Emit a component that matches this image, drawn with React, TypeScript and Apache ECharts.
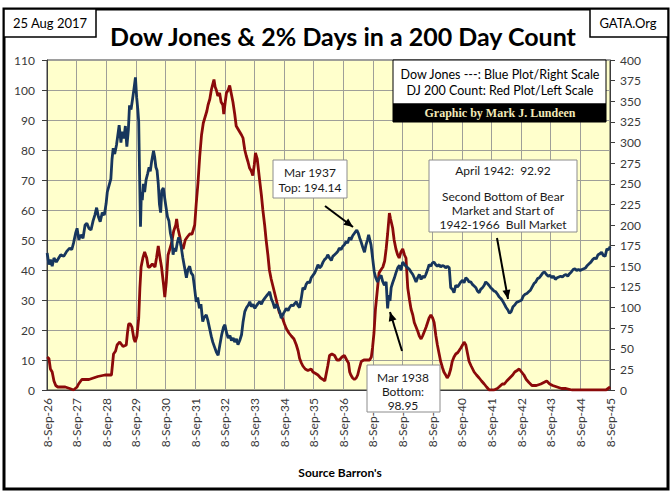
import React, { useEffect, useRef } from "react";
import * as echarts from "echarts";

const BASE_YEAR = 1926.685; // 8-Sep-1926
const X_TICK_LABELS = ["8-Sep-26","8-Sep-27","8-Sep-28","8-Sep-29","8-Sep-30","8-Sep-31","8-Sep-32","8-Sep-33","8-Sep-34","8-Sep-35","8-Sep-36","8-Sep-37","8-Sep-38","8-Sep-39","8-Sep-40","8-Sep-41","8-Sep-42","8-Sep-43","8-Sep-44","8-Sep-45"];

// Dow Jones Industrial Average (right scale)
const dowYears = [
  1926.69,1926.75,1926.80,1926.86,1926.92,1927.00,1927.08,1927.15,1927.25,1927.35,1927.45,1927.52,1927.58,1927.65,1927.70,1927.76,1927.82,1927.90,1927.97,
  1928.03,1928.10,1928.17,1928.24,1928.30,1928.36,1928.42,1928.48,1928.55,1928.62,1928.68,1928.72,1928.78,1928.84,1928.88,1928.92,1928.97,
  1929.03,1929.08,1929.12,1929.18,1929.22,1929.28,1929.33,1929.38,1929.43,1929.47,1929.52,1929.57,1929.62,1929.67,1929.71,1929.75,1929.78,1929.81,1929.84,1929.87,1929.90,1929.94,1929.98,
  1930.03,1930.08,1930.13,1930.17,1930.22,1930.28,1930.32,1930.36,1930.40,1930.44,1930.48,1930.52,1930.56,1930.61,1930.66,1930.70,1930.75,1930.80,1930.85,1930.90,1930.94,1930.98,
  1931.03,1931.08,1931.13,1931.18,1931.22,1931.27,1931.32,1931.39,1931.44,1931.50,1931.55,1931.61,1931.66,1931.72,1931.77,1931.83,1931.88,1931.94,1931.99,
  1932.06,1932.11,1932.17,1932.23,1932.28,1932.34,1932.40,1932.46,1932.52,1932.58,1932.64,1932.69,1932.74,1932.80,1932.86,1932.91,1932.97,
  1933.02,1933.08,1933.13,1933.19,1933.25,1933.30,1933.36,1933.42,1933.48,1933.53,1933.58,1933.64,1933.70,1933.75,1933.81,1933.86,1933.92,1933.97,
  1934.03,1934.09,1934.14,1934.20,1934.26,1934.31,1934.37,1934.42,1934.48,1934.54,1934.59,1934.65,1934.70,1934.76,1934.82,1934.87,1934.93,1934.99,
  1935.05,1935.10,1935.16,1935.21,1935.27,1935.32,1935.38,1935.43,1935.49,1935.55,1935.60,1935.66,1935.72,1935.77,1935.83,1935.88,1935.94,
  1936.00,1936.05,1936.11,1936.16,1936.22,1936.28,1936.33,1936.39,1936.45,1936.50,1936.55,1936.61,1936.66,1936.72,1936.78,1936.83,1936.89,1936.94,
  1937.00,1937.06,1937.10,1937.14,1937.19,1937.24,1937.29,1937.35,1937.40,1937.45,1937.50,1937.54,1937.58,1937.62,1937.66,1937.70,1937.73,1937.78,1937.84,1937.90,1937.96,
  1938.01,1938.07,1938.13,1938.18,1938.22,1938.26,1938.30,1938.35,1938.41,1938.46,1938.52,1938.58,1938.63,1938.69,1938.75,1938.80,1938.86,1938.92,1938.97,
  1939.03,1939.08,1939.14,1939.19,1939.25,1939.31,1939.36,1939.42,1939.47,1939.53,1939.58,1939.64,1939.69,1939.75,1939.80,1939.86,1939.92,1939.97,
  1940.03,1940.09,1940.14,1940.20,1940.26,1940.31,1940.37,1940.42,1940.48,1940.54,1940.60,1940.65,1940.71,1940.76,1940.82,1940.88,1940.93,1940.99,
  1941.04,1941.10,1941.16,1941.21,1941.27,1941.32,1941.38,1941.44,1941.49,1941.55,1941.60,1941.66,1941.72,1941.77,1941.83,1941.89,1941.94,
  1942.00,1942.06,1942.12,1942.18,1942.24,1942.29,1942.35,1942.41,1942.47,1942.53,1942.58,1942.64,1942.70,1942.76,1942.82,1942.88,1942.94,
  1943.00,1943.06,1943.12,1943.18,1943.24,1943.30,1943.36,1943.42,1943.48,1943.54,1943.60,1943.66,1943.72,1943.78,1943.84,1943.90,1943.96,
  1944.02,1944.08,1944.14,1944.20,1944.26,1944.32,1944.38,1944.44,1944.50,1944.56,1944.62,1944.68,1944.74,1944.80,1944.86,1944.92,1944.98,
  1945.04,1945.10,1945.16,1945.22,1945.28,1945.34,1945.40,1945.46,1945.52,1945.58,1945.64,1945.69
];
const dowValues = [
  166,152,158,150,160,155,160,164,162,168,172,170,178,190,196,182,188,184,200,
  202,196,194,205,212,221,210,204,215,212,226,240,248,256,280,293,286,
  297,310,321,300,313,305,320,295,315,345,340,352,365,379,355,340,325,260,198,240,230,250,240,
  255,262,270,265,278,290,282,270,266,250,225,215,242,245,232,222,210,205,190,182,164,172,
  168,178,185,180,172,160,150,136,146,150,142,139,125,107,112,99,104,83,88,
  91,85,75,65,58,52,46,42,55,67,76,79,70,63,66,60,63,
  58,62,55,60,67,82,95,100,103,107,101,104,99,102,105,107,104,108,
  111,114,116,119,110,106,99,104,100,95,87,92,95,99,96,100,103,102,
  105,107,102,100,112,124,122,128,131,130,136,139,142,146,152,148,150,
  155,158,160,164,160,157,162,164,166,168,172,170,174,176,180,178,185,182,
  187,190,192,194,190,184,179,172,167,176,182,188,182,176,164,152,143,136,131,136,139,
  132,127,131,99,115,108,124,130,136,142,148,151,145,155,152,150,148,146,143,
  140,136,131,136,140,134,138,136,140,146,152,150,154,155,152,150,152,149,
  151,150,148,150,148,124,122,118,127,125,128,131,133,130,136,134,131,131,
  128,126,124,120,118,122,124,127,131,129,127,124,122,120,119,116,113,
  111,108,104,100,97,93,95,101,103,106,107,108,109,114,116,117,119,
  121,125,129,131,135,136,139,142,143,140,138,139,136,138,134,136,137,
  138,137,139,140,138,141,143,146,147,145,146,145,146,147,148,151,153,
  155,158,160,159,164,165,167,163,162,171,170,174
];

// Count of 2% days in 200 trading days (left scale)
const countYears = [
  1926.69,1926.75,1926.80,1926.86,1926.92,1926.98,1927.05,1927.30,1927.45,1927.58,1927.70,1927.75,1927.86,
  1928.10,1928.25,1928.40,1928.64,1928.86,1928.90,1928.93,1929.00,1929.05,1929.14,1929.25,1929.36,1929.40,1929.44,1929.50,1929.55,1929.62,1929.66,1929.72,1929.78,1929.82,1929.86,1929.92,1929.98,
  1930.05,1930.10,1930.15,1930.24,1930.33,1930.38,1930.44,1930.50,1930.55,1930.62,1930.66,1930.71,1930.77,1930.83,1930.89,1930.96,
  1931.03,1931.06,1931.10,1931.17,1931.22,1931.28,1931.35,1931.42,1931.50,1931.58,1931.67,1931.72,1931.78,1931.84,1931.90,1931.96,
  1932.02,1932.08,1932.12,1932.18,1932.23,1932.28,1932.32,1932.36,1932.40,1932.45,1932.51,1932.56,1932.62,1932.65,1932.70,1932.74,1932.80,1932.85,1932.90,1932.96,
  1933.02,1933.07,1933.13,1933.19,1933.25,1933.30,1933.36,1933.41,1933.47,1933.52,1933.58,1933.63,1933.68,1933.72,1933.78,1933.86,1933.92,1933.97,
  1934.03,1934.08,1934.14,1934.19,1934.25,1934.30,1934.40,1934.52,1934.63,1934.70,1934.76,1934.85,1934.93,
  1935.02,1935.10,1935.16,1935.21,1935.27,1935.32,1935.40,1935.49,1935.60,1935.66,1935.75,1935.83,1935.92,
  1936.00,1936.06,1936.11,1936.16,1936.22,1936.30,1936.39,1936.47,1936.55,1936.64,1936.72,1936.80,1936.86,1936.90,1936.94,
  1937.00,1937.06,1937.12,1937.17,1937.22,1937.29,1937.38,1937.46,1937.57,1937.63,1937.67,1937.72,1937.77,1937.83,1937.89,1937.95,
  1938.02,1938.08,1938.13,1938.18,1938.24,1938.28,1938.35,1938.40,1938.46,1938.52,1938.57,1938.63,1938.69,1938.75,1938.80,1938.86,1938.92,1938.97,
  1939.03,1939.08,1939.14,1939.20,1939.25,1939.31,1939.36,1939.42,1939.48,1939.53,1939.58,1939.64,1939.70,1939.75,1939.81,1939.86,1939.92,1939.97,
  1940.03,1940.08,1940.14,1940.19,1940.25,1940.31,1940.36,1940.42,1940.48,1940.55,1940.65,1940.71,1940.76,1940.82,1940.88,1940.93,
  1941.00,1941.10,1941.18,1941.27,1941.35,1941.44,1941.52,1941.61,1941.77,1941.88,1941.94,
  1942.05,1942.12,1942.20,1942.30,1942.40,1942.47,1942.55,1942.62,1942.70,1942.78,1942.86,1942.95,
  1943.05,1943.20,1943.35,1943.45,1943.55,1943.65,1943.75,1943.90,
  1944.05,1944.20,1944.40,1945.00,1945.55,1945.62,1945.69
];
const countValues = [
  11,10.5,7,6,3,1.5,1,1,0.5,0,1,2,3.5,
  3.5,4,4.5,5,5,9,12,13,15,16,14.5,15,19,22,22,21,17,16,18,24,34,41,44,46,
  44,41,41,42,41,44,48,44,41,35,31,36,45,47,49,53,
  55,57,54,51,48,47,50,51,52,52,55,62,69,78,85,89,
  91,93,95,97,100,102,103.5,101,100,98,99,96,95,92,96,99,100,101.5,99,96,
  92,88,87,86,85,84,80,78,76,74,73,71.5,75,79,77,70,65,60,
  55,50,45,40,37,35,31,26,24,22,20.5,19,18,
  17,15,13,10.5,9,8,7,6.5,7,6,5.5,5,4,
  3.5,3,5.5,8,11.5,12,11.5,10,10,11,11.5,10,9,6,5,
  4,3.5,4,5,7,9.5,10,10,10,11,14,19,27,33,39,40,
  41,43,47,52,59,57,54,50,47,45,44,46,47,45,44,34,30,27,
  25,22.5,21,19.5,18,17,18,19.5,21,22.5,24,25,24,22.5,18,15,12,9.5,
  7.5,6,5,4,5,7,9.5,11,12,12.5,14,15,16,15,12,9.5,
  8,6,5,4,3,2,1,0,0,0.5,1,
  2,2,3,4,5,6,6.5,7,6,5,3.5,2.5,
  1.5,1.5,2,2.5,3,2,1.5,1,
  0.5,0.5,0,0,0,0.5,1
];

const LEFT_MAX = 110;
const LEFT_STEP = 10;
const RIGHT_MAX = 400;
const RIGHT_STEP = 25;

const FONT = "Lato, 'Open Sans', sans-serif";

function arrowHead(x1: number, y1: number, x2: number, y2: number, len = 9, half = 4) {
  const dx = x2 - x1, dy = y2 - y1;
  const L = Math.sqrt(dx * dx + dy * dy);
  const ux = dx / L, uy = dy / L;
  const bx = x2 - ux * len, by = y2 - uy * len;
  const px = -uy * half, py = ux * half;
  return [[x2, y2], [bx + px, by + py], [bx - px, by - py]];
}

function arrow(x1: number, y1: number, x2: number, y2: number) {
  return [
    { type: "line", z: 100, shape: { x1, y1, x2, y2 }, style: { stroke: "#000", lineWidth: 2 } },
    { type: "polygon", z: 100, shape: { points: arrowHead(x1, y1, x2, y2) }, style: { fill: "#000" } },
  ];
}

function noteBox(x: number, y: number, w: number, h: number) {
  return { type: "rect", z: 90, shape: { x, y, width: w, height: h }, style: { fill: "#fff", stroke: "#8c8c8c", lineWidth: 1 } };
}

function noteText(x: number, y: number, text: string, size = 12, align = "center") {
  return { type: "text", z: 95, x, y, style: { text, fill: "#1a1a1a", font: `${size}px ${FONT}`, textAlign: align, textVerticalAlign: "middle" } };
}

export default function App() {
  const ref = useRef<HTMLDivElement>(null);
  useEffect(() => {
    if (!ref.current) return;
    const chart = echarts.init(ref.current, undefined, { renderer: "svg" });
    const dowData = dowYears.map((y, i) => [y - BASE_YEAR, dowValues[i]]);
    const countData = countYears.map((y, i) => [y - BASE_YEAR, countValues[i]]);
    const axisLabelStyle = { color: "#3a3a3a", fontSize: 12, fontFamily: FONT };
    chart.setOption({
      animation: false,
      backgroundColor: "#fff",
      grid: {
        left: 47, right: 62, top: 60, bottom: 107,
        show: true, backgroundColor: "#FFFFCC", borderColor: "#3c3c3c", borderWidth: 1,
      },
      xAxis: {
        type: "value", min: 0, max: X_TICK_LABELS.length - 1, interval: 1,
        axisLine: { show: true, lineStyle: { color: "#3c3c3c" } },
        axisTick: { show: false },
        splitLine: { show: true, lineStyle: { color: "#9f9f98", width: 1 } },
        axisLabel: {
          ...axisLabelStyle, fontSize: 12, rotate: 90, margin: 8,
          formatter: (v: number) => X_TICK_LABELS[Math.round(v)] ?? "",
        },
      },
      yAxis: [
        {
          type: "value", min: 0, max: LEFT_MAX, interval: LEFT_STEP, position: "left",
          axisLine: { show: true, lineStyle: { color: "#3c3c3c" } },
          axisTick: { show: true, length: 5, lineStyle: { color: "#3c3c3c" } },
          splitLine: { show: true, lineStyle: { color: "#9f9f98", width: 1 } },
          axisLabel: { ...axisLabelStyle, margin: 12 },
        },
        {
          type: "value", min: 0, max: RIGHT_MAX, interval: RIGHT_STEP, position: "right",
          axisLine: { show: true, lineStyle: { color: "#3c3c3c" } },
          axisTick: { show: true, length: 5, lineStyle: { color: "#3c3c3c" } },
          splitLine: { show: false },
          axisLabel: { ...axisLabelStyle, margin: 10 },
        },
      ],
      series: [
        {
          name: "DJ 200 Count", type: "line", yAxisIndex: 0, data: countData,
          showSymbol: false, symbol: "none", lineStyle: { color: "#8B0A0A", width: 2.8 }, z: 3,
        },
        {
          name: "Dow Jones", type: "line", yAxisIndex: 1, data: dowData,
          showSymbol: false, symbol: "none", lineStyle: { color: "#17365D", width: 2.8 }, z: 4,
        },
      ],
      graphic: [
        // outer frame
        { type: "rect", z: 50, shape: { x: 4, y: 9, width: 664, height: 480 }, style: { fill: "none", stroke: "#000", lineWidth: 3 } },
        // date box
        { type: "rect", z: 60, shape: { x: 4, y: 9, width: 92, height: 28 }, style: { fill: "#fff", stroke: "#000", lineWidth: 1.5 } },
        { type: "text", z: 61, x: 50, y: 23, style: { text: "25 Aug 2017", font: `13px ${FONT}`, fill: "#000", textAlign: "center", textVerticalAlign: "middle" } },
        // GATA box
        { type: "rect", z: 60, shape: { x: 590, y: 9, width: 78, height: 28 }, style: { fill: "#fff", stroke: "#000", lineWidth: 1.5 } },
        { type: "text", z: 61, x: 628, y: 23, style: { text: "GATA.Org", font: `13px ${FONT}`, fill: "#000", textAlign: "center", textVerticalAlign: "middle" } },
        // title
        { type: "text", z: 61, x: 343, y: 36, style: { text: "Dow Jones & 2% Days in a 200 Day Count", font: `bold 25px ${FONT}`, fill: "#000", textAlign: "center", textVerticalAlign: "middle" } },
        // legend box
        { type: "rect", z: 80, shape: { x: 393, y: 60, width: 213, height: 44 }, style: { fill: "#fff", stroke: "#000", lineWidth: 1 } },
        { type: "rect", z: 80, shape: { x: 393, y: 104, width: 213, height: 18 }, style: { fill: "#000", stroke: "#000", lineWidth: 1 } },
        { type: "text", z: 81, x: 500, y: 74, style: { text: "Dow Jones ---: Blue Plot/Right Scale", font: `12.5px ${FONT}`, fill: "#000", textAlign: "center", textVerticalAlign: "middle" } },
        { type: "text", z: 81, x: 500, y: 90, style: { text: "DJ 200 Count: Red Plot/Left Scale", font: `12.5px ${FONT}`, fill: "#000", textAlign: "center", textVerticalAlign: "middle" } },
        { type: "text", z: 81, x: 500, y: 113, style: { text: "Graphic by Mark J. Lundeen", font: `bold 12px 'Liberation Serif', 'DejaVu Serif', serif`, fill: "#F2E9B8", textAlign: "center", textVerticalAlign: "middle" } },
        // note 1
        noteBox(273, 160, 74, 38),
        noteText(310, 172, "Mar 1937"),
        noteText(310, 187, "Top: 194.14"),
        ...arrow(325, 206, 353, 227),
        // note 2
        noteBox(367, 365, 73, 47),
        noteText(403, 377, "Mar 1938"),
        noteText(403, 391, "Bottom:"),
        noteText(403, 405, "98.95"),
        ...arrow(402, 351, 390, 312),
        // note 3
        noteBox(429, 160, 148, 72),
        noteText(503, 170, "April 1942:  92.92"),
        noteText(503, 196, "Second Bottom of Bear"),
        noteText(503, 210, "Market and Start of"),
        noteText(503, 224, "1942-1966  Bull Market"),
        ...arrow(497, 238, 508, 299),
        // axis title
        { type: "text", z: 61, x: 340, y: 472, style: { text: "Source Barron's", font: `bold 12px ${FONT}`, fill: "#000", textAlign: "center", textVerticalAlign: "middle" } },
      ],
    });
    return () => chart.dispose();
  }, []);
  return <div ref={ref} style={{ position: "fixed", left: 0, top: 0, width: 672, height: 497 }} />;
}
